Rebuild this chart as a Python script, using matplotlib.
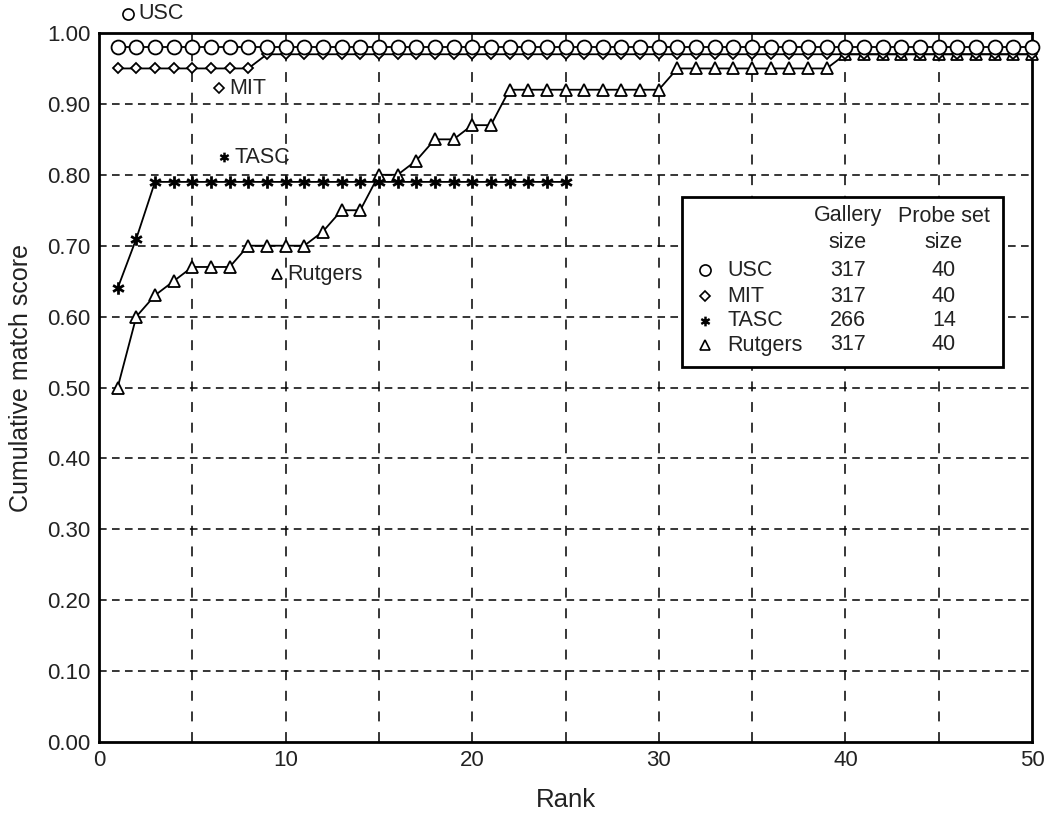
import numpy as np
import matplotlib
matplotlib.use('Agg')
import matplotlib.pyplot as plt
from matplotlib.path import Path

plt.rcParams['font.family'] = ['Liberation Sans', 'DejaVu Sans']

# cumulative match scores, ranks 1..50
ranks_all = list(range(1, 51))
usc = [0.98] * 50
mit = [0.95] * 8 + [0.97] * 42
ranks_tasc = list(range(1, 26))
tasc = [0.64, 0.71] + [0.79] * 23
rutgers = ([0.50, 0.60, 0.63, 0.65, 0.67, 0.67, 0.67, 0.70, 0.70, 0.70, 0.70,
            0.72, 0.75, 0.75, 0.80, 0.80, 0.82, 0.85, 0.85, 0.87, 0.87]
           + [0.92] * 9 + [0.95] * 9 + [0.97] * 11)

# legend table
names = ['USC', 'MIT', 'TASC', 'Rutgers']
gallery_size = [317, 317, 266, 317]
probe_size = [40, 40, 14, 40]

# 6-armed asterisk marker
star = Path([(0, -1), (0, 1), (-0.866, -0.5), (0.866, 0.5), (-0.866, 0.5), (0.866, -0.5)],
            [Path.MOVETO, Path.LINETO, Path.MOVETO, Path.LINETO, Path.MOVETO, Path.LINETO])

W, H = 1056, 815
fig = plt.figure(figsize=(W / 100, H / 100), dpi=100)
ax = fig.add_axes([99 / W, 1 - 742 / H, 933 / W, 709 / H])

mstyle = dict(color='black', lw=1.3, mfc='white', mec='black', clip_on=False)
ax.plot(ranks_all, rutgers, marker='^', ms=8, mew=1.3, zorder=3, **mstyle)
ax.plot(ranks_tasc, tasc, marker=star, ms=9, mew=2, zorder=3, **mstyle)
ax.plot(ranks_all, mit, marker='D', ms=5.5, mew=1.3, zorder=4, **mstyle)
ax.plot(ranks_all, usc, marker='o', ms=10, mew=1.3, zorder=5, **mstyle)

ax.set_xlim(0, 50)
ax.set_ylim(0, 1.0)
ax.set_xticks(np.arange(0, 51, 10))
ax.set_yticks(np.arange(0, 1.01, 0.1))
ax.set_yticklabels([f'{v:.2f}' for v in np.arange(0, 1.01, 0.1)])
ax.tick_params(length=0, labelsize=16, pad=6, colors='#222222')

# dashed grid
for x in range(5, 50, 5):
    ax.axvline(x, color='black', lw=1.1, dashes=(6.5, 7), zorder=1)
for y in np.arange(0.1, 1.0, 0.1):
    ax.axhline(y, color='black', lw=1.1, dashes=(5, 3.5), zorder=1)

for s in ax.spines.values():
    s.set_linewidth(2)

ax.set_xlabel('Rank', fontsize=18.5, color='#222222', labelpad=12)
ax.set_ylabel('Cumulative match score', fontsize=18, color='#222222')
ax.yaxis.set_label_coords(-0.071, 0.513)

# labels next to curves
notes = [('o', 1.55, 1.027, 'USC', 8, 1.2), ('D', 6.45, 0.922, 'MIT', 5, 1.2),
         (star, 6.7, 0.825, 'TASC', 7, 1.8), ('^', 9.55, 0.66, 'Rutgers', 7, 1.2)]
for m, x, y, txt, ms, mw in notes:
    ax.plot([x], [y], marker=m, ms=ms, mfc='white', mec='black', mew=mw, clip_on=False, zorder=6)
    ax.text(x + 0.55, y, txt, fontsize=15.5, va='center', ha='left', color='#222222', clip_on=False)

# legend table drawn in pixel coordinates
def fx(px):
    return px / W

def fy(py):
    return 1 - py / H

box = plt.Rectangle((fx(682), fy(367)), fx(1003) - fx(682), fy(197) - fy(367),
                    transform=fig.transFigure, fc='white', ec='black', lw=2, zorder=10)
fig.patches.append(box)

tkw = dict(fontsize=15.5, color='#222222', va='center', zorder=11)
fig.text(fx(848), fy(216), 'Gallery', ha='center', **tkw)
fig.text(fx(848), fy(242), 'size', ha='center', **tkw)
fig.text(fx(944), fy(216), 'Probe set', ha='center', **tkw)
fig.text(fx(944), fy(242), 'size', ha='center', **tkw)
markers = ['o', 'D', star, '^']
msizes = [8, 5, 7, 7]
mwidths = [1.2, 1.2, 1.8, 1.2]
rows_y = [270, 296, 321, 345]
for name, g, p, m, ms, mw, ry in zip(names, gallery_size, probe_size, markers, msizes, mwidths, rows_y):
    fig.add_artist(plt.Line2D([fx(705)], [fy(ry)], marker=m, ms=ms, mfc='white', mec='black',
                              mew=mw, transform=fig.transFigure, zorder=11))
    fig.text(fx(727), fy(ry), name, ha='left', **tkw)
    fig.text(fx(848), fy(ry), str(g), ha='center', **tkw)
    fig.text(fx(944), fy(ry), str(p), ha='center', **tkw)

fig.savefig('out.png', dpi=100)
